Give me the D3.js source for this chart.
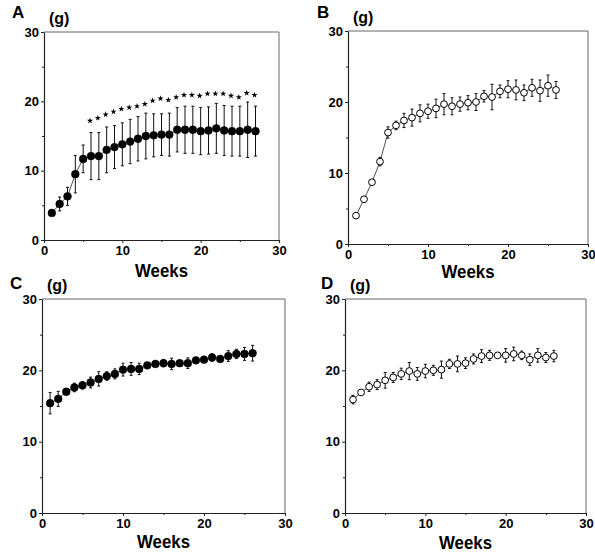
<!DOCTYPE html>
<html><head><meta charset="utf-8">
<script src="https://cdn.jsdelivr.net/npm/d3@7"></script>
<style>body{margin:0;background:#fff} svg{display:block}</style>
</head><body><svg id="c" width="595" height="555"></svg>
<script>
// ---------- data ----------
const weeksA = [1,2,3,4,5,6,7,8,9,10,11,12,13,14,15,16,17,18,19,20,21,22,23,24,25,26,27];
const meanA  = [3.9,5.2,6.3,9.5,11.7,12.1,12.1,13.0,13.4,13.8,14.2,14.6,15.0,15.1,15.2,15.2,15.9,15.9,15.9,15.7,15.8,16.1,15.8,15.7,15.7,15.9,15.7];
const errA   = [0,1.0,1.3,2.7,2.0,3.4,3.4,3.3,3.1,3.1,3.2,3.2,3.3,3.1,3.0,3.1,3.2,3.4,3.4,3.4,3.4,3.6,3.6,3.6,3.6,4.0,3.6];
const starWeeksA = [6,7,8,9,10,11,12,13,14,15,16,17,18,19,20,21,22,23,24,25,26,27];
const starPosA   = [17.2,17.6,18.1,18.5,18.9,19.1,19.3,19.6,20.1,20.4,20.2,20.6,20.9,20.9,20.8,21.1,21.1,21.1,20.8,20.6,21.2,20.9];

const weeksB = [1,2,3,4,5,6,7,8,9,10,11,12,13,14,15,16,17,18,19,20,21,22,23,24,25,26];
const meanB  = [4.0,6.3,8.7,11.6,15.7,16.7,17.4,17.8,18.4,18.7,19.1,19.7,19.4,19.7,19.9,20.0,20.8,20.7,21.5,21.8,21.7,21.3,22.0,21.6,22.3,21.7];
const errB   = [0,0,0,0.6,0.8,0.6,1.0,1.2,1.2,1.0,1.3,1.5,1.2,1.0,1.0,1.2,0.8,1.8,0.9,1.2,1.4,1.1,1.2,1.5,1.5,1.2];

const weeksC = [1,2,3,4,5,6,7,8,9,10,11,12,13,14,15,16,17,18,19,20,21,22,23,24,25,26];
const meanC  = [15.4,16.0,17.0,17.6,17.9,18.3,18.8,19.2,19.5,20.1,20.2,20.2,20.7,20.9,21.0,20.9,21.0,21.0,21.4,21.5,21.8,21.6,22.0,22.3,22.3,22.4];
const errC   = [1.5,1.05,0.3,0.6,0.5,0.75,1.0,0.6,0.7,0.9,0.9,0.8,0.35,0.3,0.5,0.8,0.35,0.75,0.3,0.4,0.5,0.3,0.75,0.65,0.9,1.1];

const weeksD = [1,2,3,4,5,6,7,8,9,10,11,12,13,14,15,16,17,18,19,20,21,22,23,24,25,26];
const meanD  = [15.9,16.9,17.7,18.0,18.6,19.0,19.5,19.9,19.5,19.9,20.0,20.1,20.9,20.9,21.0,21.6,22.0,22.1,22.1,22.1,22.3,22.1,21.5,22.1,21.8,22.0];
const errD   = [0.6,0.3,0.65,0.7,1.1,0.7,0.8,1.2,0.9,0.95,0.7,1.2,0.65,1.1,0.75,0.7,0.9,0.7,0.2,0.95,0.95,0.6,0.8,0.95,0.7,0.8];

const xMajorTicks = [0,10,20,30];
const xMinorTicks = [5,15,25];
const yMajorTicks = [0,10,20,30];
const yMinorTicks = [5,15,25];
const panelLetters = ["A","B","C","D"];
const unitLabel = "(g)";
const xTitle = "Weeks";

// ---------- layout ----------
const panels = [
  {letter:panelLetters[0], weeks:weeksA, mean:meanA, err:errA, filled:true,  stars:{w:starWeeksA, v:starPosA},
   box:{l:44,t:32,r:279,b:240}, lx:12, ly:18, ty:277},
  {letter:panelLetters[1], weeks:weeksB, mean:meanB, err:errB, filled:false,
   box:{l:348,t:31,r:588,b:244}, lx:317, ly:18, ty:278},
  {letter:panelLetters[2], weeks:weeksC, mean:meanC, err:errC, filled:true,
   box:{l:42,t:299,r:285,b:513}, lx:10, ly:289, ty:548},
  {letter:panelLetters[3], weeks:weeksD, mean:meanD, err:errD, filled:false,
   box:{l:345,t:299,r:586,b:513}, lx:321, ly:289, ty:549}
];

const svg = d3.select("#c");
const FONT = "'Liberation Sans', Arial, Helvetica, sans-serif";

panels.forEach(p => {
  const {l,t,r,b} = p.box;
  const x = d3.scaleLinear().domain([0,30]).range([l,r]);
  const y = d3.scaleLinear().domain([0,30]).range([b,t]);
  const g = svg.append("g");

  // frame (top/right)
  g.append("path").attr("d", `M${l},${t}H${r}V${b}`).attr("fill","none")
    .attr("stroke","#666").attr("stroke-width",1);

  // axes
  g.append("g").attr("transform",`translate(0,${b})`)
    .call(d3.axisBottom(x).tickValues(xMajorTicks).tickSize(3).tickSizeOuter(0).tickPadding(3).tickFormat(d3.format("d")));
  g.append("g").attr("transform",`translate(0,${b})`)
    .call(d3.axisBottom(x).tickValues(xMinorTicks).tickSize(2).tickSizeOuter(0).tickFormat(""))
    .call(s => s.select(".domain").remove());
  g.append("g").attr("transform",`translate(${l},0)`)
    .call(d3.axisLeft(y).tickValues(yMajorTicks).tickSize(3).tickSizeOuter(0).tickPadding(2).tickFormat(d3.format("d")));
  g.append("g").attr("transform",`translate(${l},0)`)
    .call(d3.axisLeft(y).tickValues(yMinorTicks).tickSize(2).tickSizeOuter(0).tickFormat(""))
    .call(s => s.select(".domain").remove());
  g.selectAll(".domain").attr("stroke","#222").attr("stroke-width",1.2);
  g.selectAll(".tick line").attr("stroke","#222");
  g.selectAll(".tick text").attr("font-family",FONT).attr("font-size",13)
    .attr("font-weight","bold").attr("fill","#000");

  // labels
  svg.append("text").attr("x",p.lx).attr("y",p.ly).text(p.letter)
    .attr("font-family",FONT).attr("font-size",17).attr("font-weight","bold");
  svg.append("text").attr("x",l+5).attr("y",t-8).text(unitLabel)
    .attr("font-family",FONT).attr("font-size",16).attr("font-weight","bold");
  svg.append("text").attr("x",(l+r)/2).attr("y",p.ty).text(xTitle)
    .attr("text-anchor","middle").attr("font-family",FONT).attr("font-size",18)
    .attr("font-weight","bold").attr("textLength",53).attr("lengthAdjust","spacingAndGlyphs");

  const data = p.weeks.map((w,i) => ({w, m:p.mean[i], e:p.err[i]}));

  // connecting line
  g.append("path").datum(data)
    .attr("d", d3.line().x(d=>x(d.w)).y(d=>y(d.m)))
    .attr("fill","none").attr("stroke","#222").attr("stroke-width",0.8);

  // error bars
  const eb = g.append("g").attr("stroke","#111").attr("stroke-width",1);
  data.filter(d => d.e > 0).forEach(d => {
    eb.append("line").attr("x1",x(d.w)).attr("x2",x(d.w)).attr("y1",y(d.m+d.e)).attr("y2",y(d.m-d.e));
    eb.append("line").attr("x1",x(d.w)-1.5).attr("x2",x(d.w)+1.5).attr("y1",y(d.m+d.e)).attr("y2",y(d.m+d.e));
    eb.append("line").attr("x1",x(d.w)-1.5).attr("x2",x(d.w)+1.5).attr("y1",y(d.m-d.e)).attr("y2",y(d.m-d.e));
  });

  // points
  g.selectAll("circle.pt").data(data).join("circle").attr("class","pt")
    .attr("cx",d=>x(d.w)).attr("cy",d=>y(d.m)).attr("r",p.filled?3.9:3.4)
    .attr("fill",p.filled?"#000":"#fff").attr("stroke","#000").attr("stroke-width",p.filled?0.5:1);

  // significance stars
  if (p.stars) {
    const sd = p.stars.w.map((w,i)=>({w, v:p.stars.v[i]}));
    g.selectAll("path.star").data(sd).join("path").attr("class","star")
      .attr("d", d3.symbol().type(d3.symbolStar).size(12))
      .attr("transform", d=>`translate(${x(d.w)-1},${y(d.v)})`)
      .attr("fill","#000");
  }
});
</script></body></html>
